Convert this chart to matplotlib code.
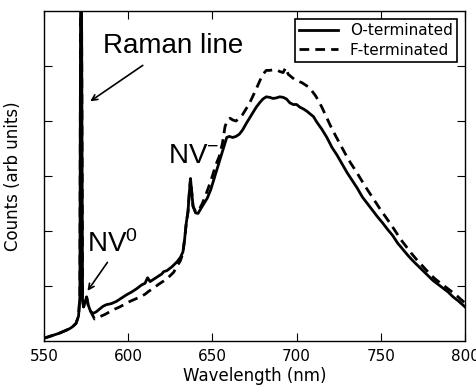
import matplotlib
matplotlib.use('Agg')
import matplotlib.pyplot as plt

# O-terminated spectrum (solid)
wl_o = [550, 553, 556, 559, 562, 565, 567, 569, 570.5, 571.3, 571.8, 572.2, 572.9,
        573.5, 574.5, 575.3, 576.2, 577.5, 579, 581, 583, 585, 587, 590, 593, 596,
        599, 602, 605, 608, 610, 611.5, 613, 615, 618, 620, 621, 623, 626, 629, 631,
        632.5, 633.5, 634.5, 635.5, 636.3, 637, 637.6, 638.5, 640, 641.5, 643, 645,
        647, 649, 651, 653, 655, 657, 658.5, 660, 662, 664, 666, 668, 670, 672, 674,
        676, 678, 680, 682, 684, 686, 688, 690, 692, 694, 696, 698, 700, 702, 704,
        706, 708, 710, 712, 715, 718, 721, 724, 727, 730, 733, 736, 739, 742, 745,
        748, 751, 754, 757, 760, 763, 766, 769, 772, 775, 778, 781, 784, 787, 790,
        793, 796, 800]
counts_o = [0.05, 0.08, 0.11, 0.14, 0.18, 0.22, 0.26, 0.32, 0.45, 0.8, 7.0, 7.0, 0.75,
            0.62, 0.72, 0.80, 0.66, 0.55, 0.50, 0.53, 0.58, 0.63, 0.66, 0.68, 0.72, 0.78,
            0.84, 0.89, 0.95, 1.02, 1.05, 1.15, 1.08, 1.12, 1.18, 1.22, 1.26, 1.28, 1.35,
            1.44, 1.52, 1.62, 1.85, 2.15, 2.35, 2.70, 2.95, 2.75, 2.45, 2.33, 2.32, 2.40,
            2.50, 2.60, 2.75, 2.95, 3.15, 3.35, 3.55, 3.70, 3.72, 3.70, 3.72, 3.76, 3.84,
            3.95, 4.05, 4.15, 4.25, 4.33, 4.40, 4.44, 4.43, 4.41, 4.42, 4.44, 4.43, 4.40,
            4.33, 4.30, 4.30, 4.25, 4.22, 4.18, 4.13, 4.08, 3.98, 3.85, 3.70, 3.52, 3.38,
            3.22, 3.06, 2.92, 2.78, 2.62, 2.50, 2.38, 2.26, 2.15, 2.03, 1.92, 1.78, 1.67,
            1.56, 1.46, 1.37, 1.28, 1.19, 1.10, 1.03, 0.96, 0.89, 0.80, 0.73, 0.62]

# F-terminated spectrum (dashed)
wl_f = [550, 553, 556, 559, 562, 565, 567, 569, 570.5, 571.3, 571.8, 572.2, 572.9,
        573.5, 574.5, 575.3, 576.2, 577.5, 580, 583, 586, 589, 592, 595, 598, 601,
        604, 607, 610, 612, 615, 618, 621, 624, 627, 629, 631, 632.5, 633.5, 634.5,
        635.5, 636.3, 637, 637.6, 638.5, 640, 642, 644, 646, 648, 650, 652, 654, 656,
        657.5, 659, 660.5, 662, 664, 666, 668, 670, 672, 674, 676, 678, 680, 682, 684,
        686, 688, 690, 692, 693.5, 695, 697, 699, 701, 703, 705, 707, 709, 711, 713,
        715, 717, 720, 723, 726, 729, 732, 735, 738, 741, 744, 747, 750, 753, 756,
        759, 762, 765, 768, 771, 774, 777, 780, 783, 786, 789, 792, 796, 800]
counts_f = [0.05, 0.08, 0.11, 0.14, 0.18, 0.22, 0.26, 0.32, 0.45, 0.8, 7.0, 7.0, 0.75,
            0.62, 0.72, 0.80, 0.66, 0.55, 0.40, 0.44, 0.48, 0.53, 0.58, 0.62, 0.67, 0.72,
            0.76, 0.80, 0.85, 0.90, 0.96, 1.03, 1.09, 1.16, 1.25, 1.36, 1.46, 1.60, 1.85,
            2.15, 2.35, 2.70, 2.95, 2.75, 2.45, 2.35, 2.38, 2.50, 2.65, 2.82, 3.00, 3.20,
            3.35, 3.60, 3.90, 4.02, 4.05, 4.02, 4.00, 4.05, 4.12, 4.22, 4.32, 4.45, 4.58,
            4.72, 4.85, 4.92, 4.92, 4.93, 4.93, 4.90, 4.88, 4.97, 4.85, 4.80, 4.75, 4.72,
            4.70, 4.66, 4.62, 4.55, 4.47, 4.37, 4.25, 4.12, 3.92, 3.74, 3.57, 3.40, 3.24,
            3.10, 2.95, 2.80, 2.66, 2.52, 2.38, 2.25, 2.12, 1.98, 1.84, 1.72, 1.60, 1.49,
            1.39, 1.29, 1.19, 1.11, 1.04, 0.97, 0.90, 0.80, 0.69]

x_ticks = [550, 600, 650, 700, 750, 800]
y_ticks = [1, 2, 3, 4, 5]

plt.rcParams['mathtext.fontset'] = 'custom'
plt.rcParams['mathtext.rm'] = 'Liberation Sans'
plt.rcParams['mathtext.it'] = 'Liberation Sans'

fig = plt.figure(figsize=(4.77, 3.89), dpi=100)
ax = fig.add_axes([44 / 477, 48 / 389, 421 / 477, 330 / 389])

ax.plot(wl_f, counts_f, color='black', lw=2.0, dashes=(3.5, 2.2), label='F-terminated')
ax.plot(wl_o, counts_o, color='black', lw=2.0, label='O-terminated')

ax.set_xlim(550, 800)
ax.set_ylim(0, 6)
ax.set_xticks(x_ticks)
ax.set_yticks(y_ticks)
ax.set_yticklabels([])
ax.tick_params(direction='in', length=6, width=0.8, top=True, right=True,
               labelsize=11, pad=6)
for s in ax.spines.values():
    s.set_linewidth(1.0)

ax.set_xlabel('Wavelength (nm)', fontsize=12, labelpad=2)
ax.set_ylabel('Counts (arb units)', fontsize=12, labelpad=10)

# annotations
ax.text(585, 5.24, 'Raman line', fontsize=20, family='Liberation Sans', va='baseline')
ax.annotate('', xy=(576.1, 4.33), xytext=(610.0, 5.04),
            arrowprops=dict(arrowstyle='->', color='black', lw=1.2))
ax.text(623.6, 3.24, r'NV$^{-}$', fontsize=20, family='Liberation Sans', va='baseline')
ax.text(575.5, 1.62, r'NV$^{0}$', fontsize=20, family='Liberation Sans', va='baseline')
ax.annotate('', xy=(574.9, 0.87), xytext=(588.6, 1.47),
            arrowprops=dict(arrowstyle='->', color='black', lw=1.2))

handles, labels = ax.get_legend_handles_labels()
leg = ax.legend(handles[::-1], labels[::-1], loc='upper right', fontsize=11,
                fancybox=False, framealpha=1, edgecolor='black', handlelength=2.5,
                borderpad=0.3, labelspacing=0.3)
leg.get_frame().set_linewidth(1.2)

fig.savefig('out.png', dpi=100)
